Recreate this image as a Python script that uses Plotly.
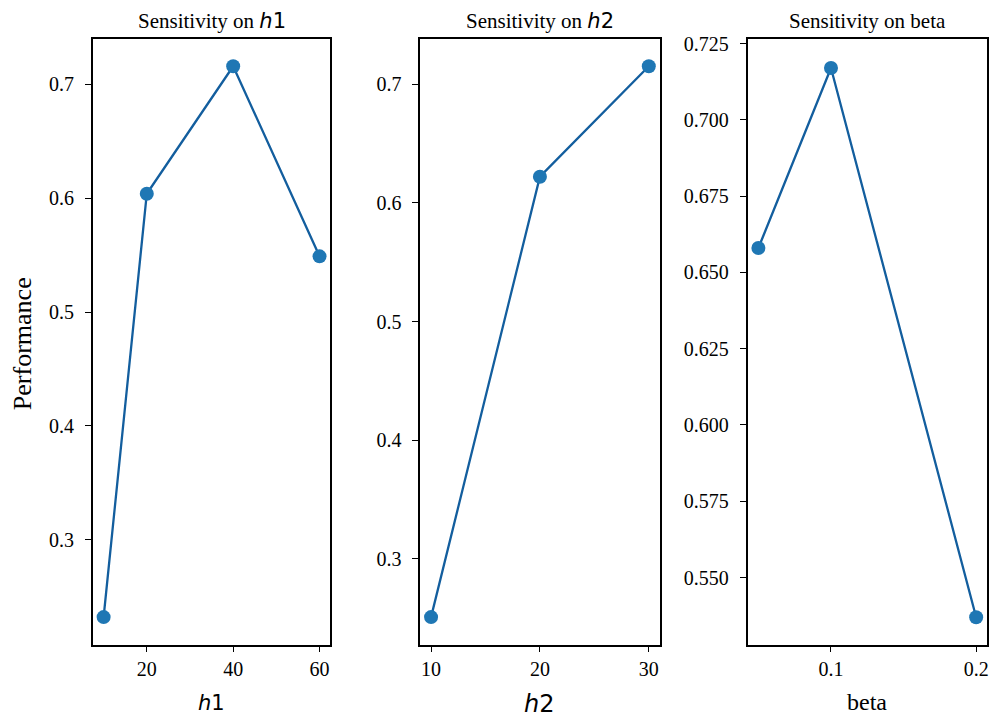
import plotly.graph_objects as go

h1_vals = [10, 20, 40, 60]
h1_perf = [0.232, 0.604, 0.716, 0.549]
h2_vals = [10, 20, 30]
h2_perf = [0.251, 0.622, 0.715]
beta_vals = [0.05, 0.1, 0.2]
beta_perf = [0.658, 0.717, 0.537]

h1_ticks = [20, 40, 60]
h2_ticks = [10, 20, 30]
beta_ticks = [0.1, 0.2]
p12_yticks = [0.3, 0.4, 0.5, 0.6, 0.7]
p3_yticks = [0.55, 0.575, 0.6, 0.625, 0.65, 0.675, 0.7, 0.725]

W, H = 1005, 723
SERIF = "Liberation Serif, Times New Roman, serif"
SANS = "DejaVu Sans, sans-serif"
MCOL = "#1f77b4"
LCOL = "#135e9e"

fig = go.Figure()

panels = [
    (h1_vals, h1_perf, "x", "y"),
    (h2_vals, h2_perf, "x2", "y2"),
    (beta_vals, beta_perf, "x3", "y3"),
]
for xs, ys, xa, ya in panels:
    fig.add_trace(go.Scatter(
        x=xs, y=ys, xaxis=xa, yaxis=ya, mode="lines+markers",
        line=dict(color=LCOL, width=2.3),
        marker=dict(color=MCOL, size=14, line=dict(width=0)),
        showlegend=False,
    ))

px_dom = [(93, 331), (421, 661), (749, 989)]
ydom = [1 - 644 / H, 1 - 33 / H]

def xdom(a, b):
    return [a / W, b / W]

common = dict(showline=True, mirror=True, linecolor="black", linewidth=1.5,
              ticks="outside", ticklen=6, tickwidth=1.3, tickcolor="black",
              showgrid=False, zeroline=False,
              tickfont=dict(family=SERIF, size=20, color="black"))

ycommon = dict(common, ticklabelstandoff=7)

fig.update_layout(
    width=W, height=H,
    margin=dict(l=0, r=0, t=0, b=0),
    paper_bgcolor="white", plot_bgcolor="white",
    xaxis=dict(domain=xdom(*px_dom[0]), range=[7.5, 62.5], tickvals=h1_ticks,
               anchor="y", **common),
    yaxis=dict(domain=ydom, range=[0.2078, 0.7402], tickvals=p12_yticks,
               tickformat=".1f", anchor="x", **ycommon),
    xaxis2=dict(domain=xdom(*px_dom[1]), range=[9, 31], tickvals=h2_ticks,
                anchor="y2", **common),
    yaxis2=dict(domain=ydom, range=[0.2278, 0.7382], tickvals=p12_yticks,
                tickformat=".1f", anchor="x2", **ycommon),
    xaxis3=dict(domain=xdom(*px_dom[2]), range=[0.0425, 0.2075], tickvals=beta_ticks,
                tickformat=".1f", anchor="y3", **common),
    yaxis3=dict(domain=ydom, range=[0.528, 0.7266], tickvals=p3_yticks,
                tickformat=".3f", anchor="x3", **ycommon),
)

def ann(text, x, y, size, family=SERIF, angle=0):
    fig.add_annotation(text=text, x=x / W, y=1 - y / H,
                       xref="paper", yref="paper",
                       showarrow=False, xanchor="center", yanchor="middle",
                       textangle=angle, font=dict(family=family, size=size, color="black"))

def sans_it(s):
    return f'<span style="font-family:DejaVu Sans"><i>{s[0]}</i>{s[1:]}</span>'

centers = [(a + b) / 2 for a, b in px_dom]
ann("Sensitivity on " + sans_it("h1"), centers[0], 15, 21)
ann("Sensitivity on " + sans_it("h2"), centers[1], 15, 21)
ann("Sensitivity on beta", centers[2], 15, 21)
ann("<i>h</i>1", centers[0], 703, 21, family=SANS)
ann("<i>h</i>2", centers[1], 704, 24, family=SANS)
ann("beta", centers[2], 702, 24)
ann("Performance", 22, 340, 26, angle=-90)

fig.write_html("out.html",
               config={"displayModeBar": False},
               post_script="document.body.style.margin='0';document.body.style.overflow='hidden';")
